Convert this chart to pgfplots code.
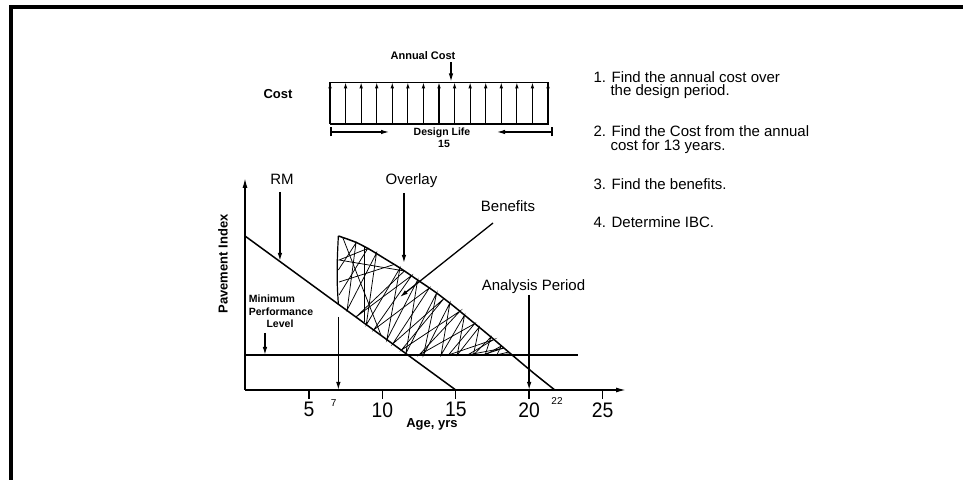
\documentclass[border=0pt]{standalone}
\usepackage{pgfplots}
\pgfplotsset{compat=1.18}
\usepackage{fontspec}
\setmainfont{Liberation Sans}
\usetikzlibrary{arrows.meta}
\newcommand{\fs}[1]{\fontsize{#1bp}{#1bp}\selectfont}

\begin{document}
\begin{tikzpicture}[x=1bp,y=1bp,>={Latex[length=8bp,width=4.5bp]}]
\path[use as bounding box] (0,0) rectangle (963,480);
% scan frame
\draw[line width=4bp] (10.5,0) -- (10.5,473) -- (963,473);

% ---------------- main chart ----------------
\begin{axis}[at={(245bp,90bp)}, anchor=south west, scale only axis,
  width=381bp, height=212bp,
  xmin=0.64, xmax=26.6, ymin=0, ymax=212,
  axis lines=left,
  axis line style={line width=1.5bp, -{Latex[length=10bp,width=5bp]}},
  xtick={5,10,15,20,25}, ytick=\empty,
  tick align=outside, major tick length=9bp,
  xtick style={line width=1.3bp, black},
  xticklabel style={font=\fs{21}, xscale=0.92},
  /pgf/number format/assume math mode=true,
  clip=false]
% minimum performance level
\addplot[black, line width=1.5bp] coordinates {(0.64,35) (23.32,35)};
% RM curve
\addplot[black, line width=1.5bp] coordinates {(0.64,154) (15,0)};
% overlay curve
\addplot[black, line width=1.5bp, smooth, tension=0.5] coordinates {
 (7.0,154) (7.6,151) (8.3,147) (9.2,140) (10.2,131) (11.2,122) (12.4,110)
 (13.6,98) (14.8,84.5) (16.0,70) (17.4,53) (18.8,35.5) (20.3,17) (21.75,0)};
\addplot[black, line width=1.2bp, smooth] coordinates {(7.0,86) (6.93,105) (6.93,130) (7.0,154)};
% benefit hatching
\addplot[black, line width=0.75bp] coordinates {
 (7,120) (8.2,147) (7.6,80) (9.6,137) (8.9,65) (11.2,122) (10.3,50) (12.4,110)
 (11.6,36.5) (13.7,97) (12.8,35) (14.6,87) (14.0,35) (15.6,75) (15.1,35) (16.6,63)
 (16.2,35) (17.4,53) (17.0,35) (18.1,44) (17.8,35) (18.6,38)};
\addplot[black, line width=0.75bp] coordinates {
 (7.05,95) (9.0,141.5) (7.05,130) (11.5,119) (8.2,73) (12.0,114.5) (9.4,60) (13.2,102)
 (10.7,46) (14.2,91.5) (11.3,40) (15.3,79) (12.5,35) (16.3,66.5) (14.5,35) (17.6,50.5)
 (15.8,35) (18.3,42) (16.8,35) (18.7,36)};
\addplot[black, line width=0.75bp] coordinates {(7.3,152.5) (9.9,55)};
\addplot[black, line width=0.75bp] coordinates {(8.75,143) (8.75,68)};
\addplot[black, line width=0.75bp] coordinates {(7.05,108) (10.8,125.5)};
% pointer arrows
\draw[->, line width=1.3bp] (axis cs:3.02,198) -- (axis cs:3.02,129);
\draw[->, line width=1.3bp] (axis cs:11.47,197) -- (axis cs:11.47,127);
\draw[->, line width=1.3bp] (axis cs:17.54,167) -- (axis cs:11.2,93);
\draw[->, line width=1.3bp] (axis cs:20,95) -- (axis cs:20,0);
\draw[->, line width=1.3bp] (axis cs:7,73) -- (axis cs:7,0);
\draw[->, line width=1.3bp] (axis cs:2.0,57) -- (axis cs:2.0,35);
\end{axis}

% ---------------- cost diagram ----------------
\begin{axis}[at={(330bp,356bp)}, anchor=south west, scale only axis,
  width=218bp, height=41.7bp, xmin=0, xmax=14, ymin=0, ymax=1,
  hide axis, clip=false]
\addplot[black, line width=1.5bp] coordinates {(0,0) (14,0) (14,1) (0,1) (0,0)};
\addplot[black, line width=1.1bp, -{Latex[length=6bp,width=3.5bp]},
  quiver={u=\thisrow{u}, v=\thisrow{v}}] table {
x y u v
0 0 0 1
1 0 0 1
2 0 0 1
3 0 0 1
4 0 0 1
5 0 0 1
6 0 0 1
7 0 0 1
8 0 0 1
9 0 0 1
10 0 0 1
11 0 0 1
12 0 0 1
13 0 0 1
14 0 0 1
};
\end{axis}

\draw[->, line width=1.1bp] (451,417.5) -- (451,398.5);
\node[anchor=base, font=\bfseries\fs{11}] at (423,420) {Annual Cost};
\node[anchor=base, font=\bfseries\fs{13}] at (278,381) {Cost};
\draw[line width=1.1bp] (331,343.5) -- (331,352.5);
\draw[->, line width=1.1bp] (331,348) -- (389,348);
\draw[line width=1.1bp] (552,343.5) -- (552,352.5);
\draw[->, line width=1.1bp] (552,348) -- (497,348);
\node[anchor=base, font=\bfseries\fs{10.5}] at (442,344) {Design Life};
\node[anchor=base, font=\bfseries\fs{10.5}] at (444,332.5) {15};

% ---------------- chart labels ----------------
\node[anchor=base, font=\fs{15}] at (282,295) {RM};
\node[anchor=base, font=\fs{15}] at (411.5,295) {Overlay};
\node[anchor=base, font=\fs{15}] at (508,268.5) {Benefits};
\node[anchor=base, font=\fs{15}] at (533.5,189) {Analysis Period};
\node[anchor=base, font=\bfseries\fs{10.5}] at (272,177) {Minimum};
\node[anchor=base, font=\bfseries\fs{10.5}] at (281,164.3) {Performance};
\node[anchor=base, font=\bfseries\fs{10.5}] at (280,152) {Level};
\node[rotate=90, font=\bfseries\fs{13}] at (223,216) {Pavement Index};
\node[anchor=base, font=\bfseries\fs{13}] at (432,52) {Age, yrs};
\node[anchor=base, font=\fs{10}] at (333.7,73.3) {7};
\node[anchor=base, font=\fs{10}] at (557,75) {22};

% ---------------- steps ----------------
\node[anchor=base west, font=\fs{15}] at (590,397.5) {1. Find the annual cost over};
\node[anchor=base west, font=\fs{15}] at (607,384) {the design period.};
\node[anchor=base west, font=\fs{15}] at (590,343) {2. Find the Cost from the annual};
\node[anchor=base west, font=\fs{15}] at (607,329) {cost for 13 years.};
\node[anchor=base west, font=\fs{15}] at (590,290) {3. Find the benefits.};
\node[anchor=base west, font=\fs{15}] at (590,252) {4. Determine IBC.};
\end{tikzpicture}
\end{document}
